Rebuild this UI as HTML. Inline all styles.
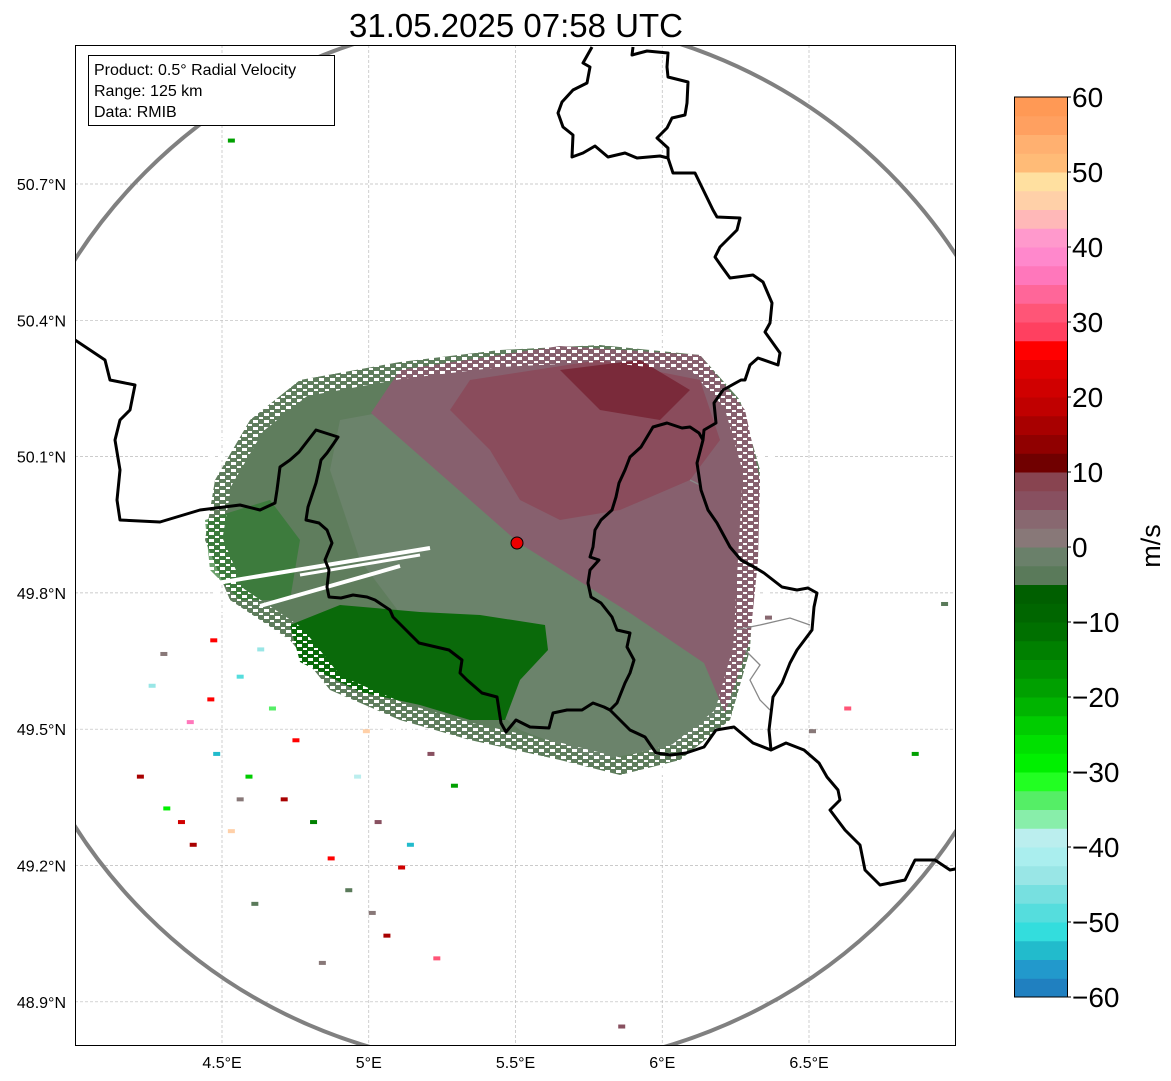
<!DOCTYPE html>
<html><head><meta charset="utf-8">
<style>
body{margin:0;background:#fff;}
svg{display:block;font-family:"Liberation Sans",sans-serif;}
</style></head>
<body>
<svg id="chart" width="1171" height="1081" viewBox="0 0 1171 1081" xmlns="http://www.w3.org/2000/svg">
<defs>
 <clipPath id="mapclip"><rect x="75" y="45" width="881" height="1001"/></clipPath>
 <pattern id="speck" width="11" height="7" patternUnits="userSpaceOnUse">
  <rect x="0" y="0" width="5" height="3" fill="#fff"/>
  <rect x="6" y="4" width="4" height="2" fill="#fff"/>
 </pattern>
</defs>
<text x="516" y="37" font-size="33" text-anchor="middle">31.05.2025 07:58 UTC</text>
<g id="grid"></g>
<g clip-path="url(#mapclip)">
 <g>
  <path fill="#5f7d5d" d="M300,380 L400,362 L500,350 L600,345 L700,355 L740,400 L760,470 L755,560 L750,650 L730,720 L680,760 L620,775 L560,760 L470,740 L400,720 L330,690 L290,640 L230,600 L205,540 L215,480 L250,420 Z"/>
  <path fill="#6b836b" d="M340,420 L450,400 L560,470 L700,600 L735,700 L680,745 L600,760 L520,730 L470,690 L420,640 L360,560 L330,470 Z"/>
  <path fill="#87606e" d="M400,370 L560,346 L700,355 L745,410 L760,480 L758,560 L750,640 L725,713 L704,663 L630,613 L519,543 L371,413 Z"/>
  <path fill="#8a4c5c" d="M470,380 L600,360 L700,380 L720,440 L690,480 L620,510 L560,520 L520,500 L490,450 L450,410 Z"/>
  <path fill="#7a2a3a" d="M560,370 L640,360 L690,390 L660,420 L600,410 Z"/>
  <path fill="#0a6a0a" d="M290,625 L340,605 L420,612 L480,615 L545,625 L548,650 L520,680 L505,720 L470,720 L420,705 L360,692 L300,662 Z"/>
  <path fill="#2f7a30" opacity="0.7" d="M205,520 L270,500 L300,540 L290,600 L240,600 L210,570 Z"/>
  <path fill="none" stroke="url(#speck)" stroke-width="34" d="M300,380 L400,362 L500,350 L600,345 L700,355 L740,400 L760,470 L755,560 L750,650 L730,720 L680,760 L620,775 L560,760 L470,740 L400,720 L330,690 L290,640 L230,600 L205,540 L215,480 L250,420 Z"/>
  <g stroke="#fff" stroke-width="4">
   <line x1="205" y1="585" x2="430" y2="548"/>
   <line x1="260" y1="606" x2="400" y2="566"/>
   <line x1="300" y1="575" x2="420" y2="555" stroke-width="3"/>
  </g>
  <g id="specks"></g>
 </g>
 <circle cx="517" cy="543" r="525" fill="none" stroke="#808080" stroke-width="4"/>
 <g fill="none" stroke="#888" stroke-width="1.3">
  <path d="M690,480 L700,485 L705,500 M735,630 L760,625 L790,618 L810,625 M745,650 L760,665 L750,680 L760,700 L770,710"/>
 </g>
 <g fill="none" stroke="#000" stroke-width="3" stroke-linejoin="round">
  <path d="M592,47 L583,63 L590,67 L587,83 L573,90 L562,102 L558,113 L563,127 L573,135 L572,157 L583,153 L595,146 L608,157 L625,153 L637,158 L660,156 L668,158"/>
  <path d="M633,47 L632,55 L647,51 L668,53 L667,67 L668,77 L688,82 L687,103 L685,115 L672,118 L667,128 L657,138 L668,148 L668,158 L673,173 L695,173 L713,210 L717,217 L740,218 L737,230 L720,247 L715,257 L722,267 L730,278 L753,275 L763,282 L772,303 L770,323 L765,332 L780,353 L778,365 L758,358 L750,365 L745,380 L741,380 L723,390 L714,403 L716,423 L704,430 L703,440 L697,463 L701,490 L708,510 L717,523 L730,547 L741,560 L754,567 L764,573 L782,587 L797,590 L808,588 L817,593 L814,607 L812,630 L797,650 L790,663 L782,683 L773,697 L769,730 L771,750 L786,743 L804,750 L819,763 L827,777 L838,790 L840,800 L830,810 L845,830 L860,845 L865,870 L880,885 L905,880 L915,860 L935,860 L950,870 L960,868"/>
  <path d="M703,440 L699,433 L690,427 L682,428 L667,423 L653,427 L641,447 L630,457 L625,470 L619,483 L616,497 L612,510 L601,520 L595,530 L593,547 L590,557 L599,560 L590,570 L588,583 L591,597 L601,603 L612,617 L617,630 L630,633 L627,647 L634,660 L630,673 L625,683 L621,693 L617,703 L610,710 L630,730 L645,737 L656,753 L671,755 L686,753 L704,747 L716,730 L734,727 L753,743 L771,750"/>
  <path d="M610,710 L604,707 L593,703 L582,710 L567,710 L553,713 L549,728 L530,727 L516,720 L506,732 L501,723 L497,697 L482,693 L467,680 L460,673 L462,660 L449,650 L419,643 L408,632 L393,617 L390,610 L375,600 L367,597 L353,595 L341,598 L329,597 L327,587 L329,570 L325,560 L332,543 L327,530 L319,523 L306,520 L308,507 L316,483 L319,470 L321,460 L327,453 L334,443 L338,437 L316,430 L299,452 L290,460 L280,467 L277,490 L275,503 L260,510 L240,505 L200,510 L160,522 L120,520 L117,500 L120,470 L115,440 L120,420 L130,410 L135,385 L110,380 L105,360 L75,340"/>
 </g>
 <circle cx="517" cy="543" r="6" fill="#e00" stroke="#000" stroke-width="1"/>
</g>
<rect x="75.5" y="45.5" width="880" height="1000" fill="none" stroke="#000" stroke-width="1"/>
<g id="ticks"></g>
<g>
 <rect x="88.5" y="55.5" width="246" height="70" fill="#fff" stroke="#000" stroke-width="1"/>
 <text x="94" y="75" font-size="16">Product: 0.5° Radial Velocity</text>
 <text x="94" y="96" font-size="16">Range: 125 km</text>
 <text x="94" y="117" font-size="16">Data: RMIB</text>
</g>
<g id="cbar"></g>
<text x="0" y="0" font-size="27" text-anchor="middle" transform="translate(1160,546) rotate(-90)">m/s</text>
</svg>
<script>
const lonTicks=[4.5,5,5.5,6,6.5];
const lonLabels=["4.5°E","5°E","5.5°E","6°E","6.5°E"];
const latTicks=[50.7,50.4,50.1,49.8,49.5,49.2,48.9];
const latLabels=["50.7°N","50.4°N","50.1°N","49.8°N","49.5°N","49.2°N","48.9°N"];
const cbarTicks=[60,50,40,30,20,10,0,-10,-20,-30,-40,-50,-60];
const cbarLabels=["60","50","40","30","20","10","0","\u221210","\u221220","\u221230","\u221240","\u221250","\u221260"];
const cbarColors=["#2080c0","#2299cc","#22bbcc","#33dddd","#55dddd","#77e0e0","#99e6e6","#aaeeee","#bbeeee","#88eeaa","#55ee66","#22ff22","#00f000","#00e000","#00cc00","#00b400","#00a000","#009000","#008000","#007000","#006600","#005f00","#5a7a5a","#6a806a","#887878","#886870","#885060","#884450","#700000","#900000","#a80000","#c00000","#d00000","#e00000","#ff0000","#ff4060","#ff5577","#ff6699","#ff77bb","#ff88cc","#ff99cc","#ffb8b8","#ffd0a8","#ffe0a0","#ffbb77","#ffb070","#ffa060","#ff9955"];
const speckX=[4.62,4.55,4.45,4.38,4.25,4.47,4.58,4.70,4.80,4.86,4.92,4.35,4.21,4.30,4.52,4.66,4.74,4.95,5.02,5.10,5.00,5.05,5.20,5.28,4.98,5.13,4.55,4.29,4.46,4.39,4.60,6.35,6.50,6.62,6.85,6.95,5.85,4.52,4.83,5.22];
const speckY=[49.68,49.62,49.57,49.52,49.60,49.45,49.40,49.35,49.30,49.22,49.15,49.30,49.40,49.33,49.28,49.55,49.48,49.40,49.30,49.20,49.10,49.05,49.45,49.38,49.50,49.25,49.35,49.67,49.70,49.25,49.12,49.75,49.50,49.55,49.45,49.78,48.85,50.80,48.99,49.00];
const speckV=[-45,-50,25,35,-45,-55,-25,15,-15,25,-5,20,15,-30,45,-35,25,-40,5,20,0,15,5,-20,45,-55,2,0,25,15,-5,3,2,30,-20,-5,5,-20,0,30];
const xS=lon=>222+(lon-4.5)*293.5;
const yS=lat=>184+(50.7-lat)/0.3*136.3;
const yC=v=>97+(60-v)*7.5;
const NS="http://www.w3.org/2000/svg";
function mk(tag,attrs,parent){const e=document.createElementNS(NS,tag);for(const k in attrs)e.setAttribute(k,attrs[k]);parent.appendChild(e);return e;}
const grid=document.getElementById('grid'),ticks=document.getElementById('ticks'),cbar=document.getElementById('cbar'),specks=document.getElementById('specks');
lonTicks.forEach((lon,i)=>{
 const x=xS(lon);
 const g=mk('line',{x1:x,y1:45,x2:x,y2:1046,stroke:'#bbb','stroke-width':0.7,'stroke-dasharray':'3,2'},grid);
 
 
 const t=mk('text',{x:x,y:1068,'font-size':16,'text-anchor':'middle'},ticks);
 t.textContent=lonLabels[i];
 
 
});
latTicks.forEach((lat,i)=>{
 const y=yS(lat);
 const g=mk('line',{x1:75,y1:y,x2:956,y2:y,stroke:'#bbb','stroke-width':0.7,'stroke-dasharray':'3,2'},grid);
 
 
 const t=mk('text',{x:66,y:y+6,'font-size':16,'text-anchor':'end'},ticks);
 t.textContent=latLabels[i];
 
 
});
const step=120/cbarColors.length;
cbarColors.forEach((c,i)=>{
 const v0=-60+i*step,v1=v0+step;
 const r=mk('rect',{x:1014,y:yC(v1),width:53,height:yC(v0)-yC(v1)+0.5,fill:c},cbar);
 
 
});
mk('rect',{x:1014.5,y:yC(60),width:53,height:yC(-60)-yC(60),fill:'none',stroke:'#000','stroke-width':1},cbar);
cbarTicks.forEach((v,i)=>{
 const y=yC(v);
 mk('line',{x1:1067,y1:y,x2:1071,y2:y,stroke:'#000'},cbar);
 const t=mk('text',{x:1072,y:y+10,'font-size':28},cbar);
 t.textContent=cbarLabels[i];
 
 
});
function colorFor(v){let i=Math.floor((v+60)/step);i=Math.max(0,Math.min(cbarColors.length-1,i));return cbarColors[i];}
speckX.forEach((lon,i)=>{
 const r=mk('rect',{x:xS(lon),y:yS(speckY[i]),width:7,height:4,fill:colorFor(speckV[i])},specks);
 
 
});
</script>
</body></html>
